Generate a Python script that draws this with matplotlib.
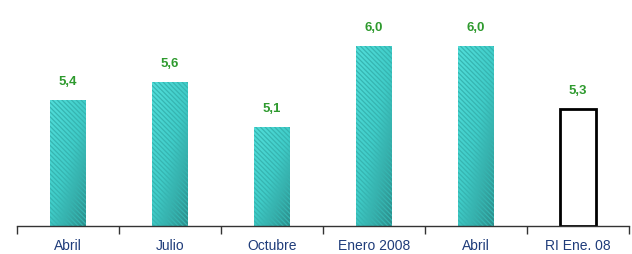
import matplotlib
matplotlib.use("Agg")
import matplotlib.pyplot as plt
from matplotlib.colors import LinearSegmentedColormap
import numpy as np

categories = ["Abril", "Julio", "Octubre", "Enero 2008", "Abril", "RI Ene. 08"]
values = [5.4, 5.6, 5.1, 6.0, 6.0, 5.3]
labels = ["5,4", "5,6", "5,1", "6,0", "6,0", "5,3"]

plt.rcParams['font.family'] = ['Liberation Sans', 'DejaVu Sans']
plt.rcParams['hatch.linewidth'] = 0.9
plt.rcParams['hatch.color'] = '#2A9C98'

fig = plt.figure(figsize=(6.32, 2.54), dpi=100)
ax = fig.add_axes([17/632, 28/254, 612/632, 226/254])

cmap = LinearSegmentedColormap.from_list('teal', ['#52DEDA', '#40CCC8', '#2C8E8B'])
gy, gx = np.mgrid[0:1:60j, 0:1:20j]
grad = 0.45 * gx + 0.55 * gy  # row 0 = top; darker to the right and bottom

x = np.arange(len(categories))
base = 4.0
for i, v in enumerate(values):
    if i < len(values) - 1:
        bars = ax.bar(x[i], v - base, bottom=base, width=0.35, color='none',
                      edgecolor='#36B5B1', hatch='\\\\\\\\\\\\\\', linewidth=0, zorder=3)
        p = bars[0]
        x0, y0 = p.get_x(), p.get_y()
        w, h = p.get_width(), p.get_height()
        im = ax.imshow(grad, cmap=cmap, vmin=0, vmax=1, aspect='auto',
                       extent=(x0, x0 + w, y0, y0 + h), origin='upper', zorder=2,
                       interpolation='bilinear')
        im.set_clip_path(p)
    else:
        ax.bar(x[i], v - base, bottom=base, width=0.35, color='white',
               edgecolor='black', linewidth=2, zorder=3)
    ax.text(x[i], v + 0.2, labels[i], ha='center', va='center',
            color='#2E9A2E', fontsize=9.5, fontweight='bold')

ax.set_xlim(-0.5, 5.5)
ax.set_ylim(base, 6.51)
for s in ['left', 'right', 'top']:
    ax.spines[s].set_visible(False)
ax.spines['bottom'].set_color('#333333')
ax.spines['bottom'].set_linewidth(1)
ax.spines['bottom'].set_zorder(4)
ax.set_yticks([])
ax.set_xticks(x)
ax.set_xticklabels(categories, color='#1F3C7A', fontsize=10)
ax.tick_params(axis='x', which='major', length=0, pad=9)
ax.set_xticks(np.arange(-0.5, 6.0, 1.0), minor=True)
ax.tick_params(axis='x', which='minor', length=6, color='#333333', width=1)

fig.savefig("out.png", dpi=100)
